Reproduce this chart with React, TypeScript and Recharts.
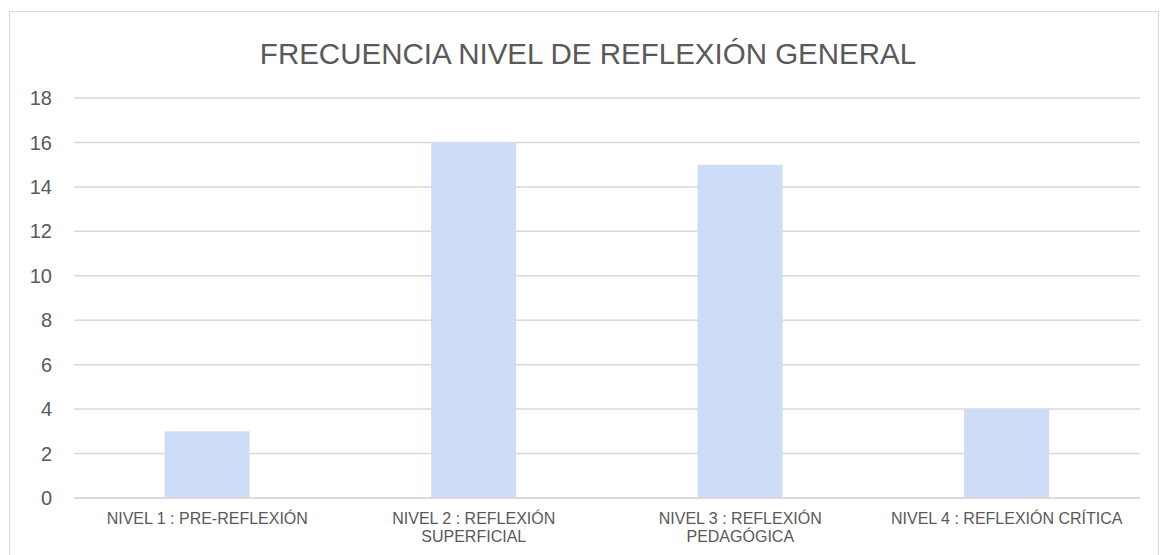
import { BarChart, Bar, XAxis, YAxis, CartesianGrid } from "recharts";

const categories = [
  "NIVEL 1 : PRE-REFLEXIÓN",
  "NIVEL 2 : REFLEXIÓN|SUPERFICIAL",
  "NIVEL 3 : REFLEXIÓN|PEDAGÓGICA",
  "NIVEL 4 : REFLEXIÓN CRÍTICA",
];
const frecuencias = [3, 16, 15, 4];
const yTicks = [0, 2, 4, 6, 8, 10, 12, 14, 16, 18];

const data = categories.map((name, i) => ({ name, value: frecuencias[i] }));

const FONT = "'Liberation Sans', Arial, sans-serif";

function CategoryTick(props: any) {
  const { x, y, payload } = props;
  const lines = String(payload.value).split("|");
  return (
    <g transform={`translate(${x},${y})`}>
      {lines.map((line, i) => (
        <text
          key={i}
          x={0}
          y={i * 18.5}
          dy={13.5}
          textAnchor="middle"
          fill="#595959"
          fontSize={16}
          fontFamily={FONT}
        >
          {line}
        </text>
      ))}
    </g>
  );
}

export default function App() {
  return (
    <div
      style={{
        position: "fixed",
        left: 0,
        top: 0,
        width: 1166,
        height: 555,
        background: "#fff",
        overflow: "hidden",
        fontFamily: FONT,
      }}
    >
      <div
        style={{
          position: "absolute",
          left: 9,
          top: 11,
          width: 1148,
          height: 600,
          border: "1px solid #d9d9d9",
        }}
      />
      <div
        style={{
          position: "absolute",
          left: 5,
          top: 37,
          width: 1166,
          textAlign: "center",
          fontSize: 29.5,
          lineHeight: "34px",
          color: "#595959",
        }}
      >
        FRECUENCIA NIVEL DE REFLEXIÓN GENERAL
      </div>
      <div style={{ position: "absolute", left: 0, top: 0 }}>
        <BarChart
          width={1166}
          height={555}
          data={data}
          margin={{ top: 98, right: 26, bottom: 0, left: 0 }}
          barCategoryGap="34%"
        >
          <CartesianGrid vertical={false} stroke="#d9d9d9" strokeWidth={1.5} />
          <XAxis
            dataKey="name"
            height={57}
            axisLine={{ stroke: "#d9d9d9", strokeWidth: 1.5 }}
            tickLine={false}
            tick={<CategoryTick />}
            interval={0}
            tickMargin={6}
          />
          <YAxis
            width={74}
            domain={[0, 18]}
            ticks={yTicks}
            axisLine={false}
            tickLine={false}
            tickSize={0}
            tickMargin={22}
            tick={{ fill: "#595959", fontSize: 20, fontFamily: FONT }}
          />
          <Bar dataKey="value" fill="#cddcf7" isAnimationActive={false} />
        </BarChart>
      </div>
    </div>
  );
}
